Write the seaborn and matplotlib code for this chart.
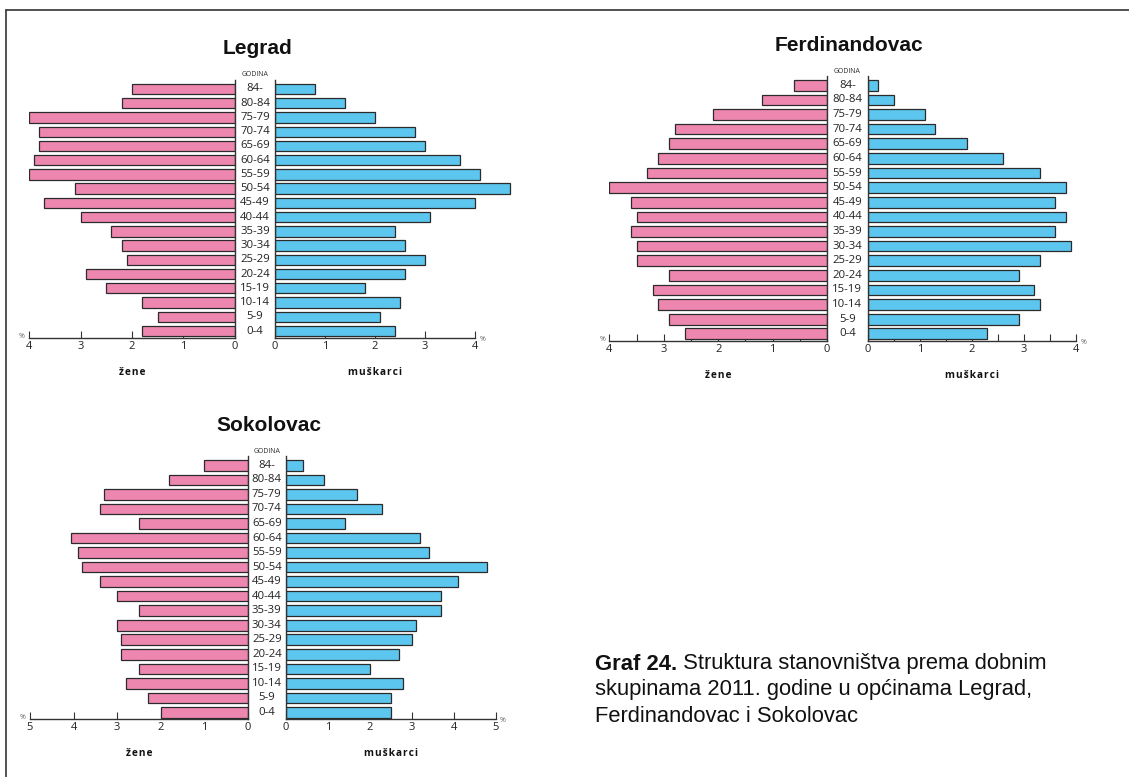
import numpy as np
import seaborn as sns
import matplotlib.pyplot as plt
from matplotlib.lines import Line2D
from matplotlib import transforms

# age groups, top to bottom
ages = ["84-", "80-84", "75-79", "70-74", "65-69", "60-64", "55-59", "50-54", "45-49",
        "40-44", "35-39", "30-34", "25-29", "20-24", "15-19", "10-14", "5-9", "0-4"]

# shares in %
legrad_zene = [2.0, 2.2, 4.0, 3.8, 3.8, 3.9, 4.0, 3.1, 3.7, 3.0, 2.4, 2.2, 2.1, 2.9, 2.5, 1.8, 1.5, 1.8]
legrad_muskarci = [0.8, 1.4, 2.0, 2.8, 3.0, 3.7, 4.1, 4.7, 4.0, 3.1, 2.4, 2.6, 3.0, 2.6, 1.8, 2.5, 2.1, 2.4]
ferd_zene = [0.6, 1.2, 2.1, 2.8, 2.9, 3.1, 3.3, 4.0, 3.6, 3.5, 3.6, 3.5, 3.5, 2.9, 3.2, 3.1, 2.9, 2.6]
ferd_muskarci = [0.2, 0.5, 1.1, 1.3, 1.9, 2.6, 3.3, 3.8, 3.6, 3.8, 3.6, 3.9, 3.3, 2.9, 3.2, 3.3, 2.9, 2.3]
sok_zene = [1.0, 1.8, 3.3, 3.4, 2.5, 4.05, 3.9, 3.8, 3.4, 3.0, 2.5, 3.0, 2.9, 2.9, 2.5, 2.8, 2.3, 2.0]
sok_muskarci = [0.4, 0.9, 1.7, 2.3, 1.4, 3.2, 3.4, 4.8, 4.1, 3.7, 3.7, 3.1, 3.0, 2.7, 2.0, 2.8, 2.5, 2.5]

caption_bold = "Graf 24."
caption_lines = [" Struktura stanovništva prema dobnim",
                 "skupinama 2011. godine u općinama Legrad,",
                 "Ferdinandovac i Sokolovac"]

PINK = "#EE87B0"
BLUE = "#5CC6EE"
EDGE = "#2b2b2b"
LABEL_FONT = ["Open Sans", "DejaVu Sans"]
HEAD_FONT = ["Liberation Sans", "DejaVu Sans"]
HAIR = "\u200a"

sns.set_style("white")
plt.rcParams["font.family"] = LABEL_FONT

W, H = 1129, 777
fig = plt.figure(figsize=(W / 100, H / 100), dpi=100)


def box(x0, y0, x1, y1):
    # pixel box (top-left origin) -> figure fraction
    return [x0 / W, 1 - y1 / H, (x1 - x0) / W, (y1 - y0) / H]


def style_side(ax, axmax, minor, side):
    ax.set_xticks(range(axmax + 1))
    if minor:
        ax.set_xticks(np.arange(0.5, axmax, 1.0), minor=True)
    ax.set_axisbelow(True)
    ax.tick_params(axis="x", which="both", bottom=True, direction="in", length=5,
                   width=0.8, color="#333333", pad=2.5, labelsize=8, labelcolor="#222222")
    ax.tick_params(axis="y", left=False, right=False, labelleft=False)
    ax.set_xlabel("")
    ax.set_ylabel("")
    for s in ["top", "left", "right", "bottom"]:
        ax.spines[s].set_visible(False)
    ax.spines["bottom"].set_visible(True)
    ax.spines["bottom"].set_bounds(0, axmax)
    ax.spines[side].set_visible(True)
    for s in ["bottom", side]:
        ax.spines[s].set_color("#333333")
        ax.spines[s].set_linewidth(1.0)


def pyramid(title, zene, muskarci, axmax, left, right, rows, minor=False):
    lx_max, lx0 = left
    rx0, rx_max = right
    c_first, c_last, y_axis = rows
    step = (c_last - c_first) / (len(ages) - 1)
    ybot = len(ages) - 1 + (y_axis - c_last) / step
    ytop = -0.65
    y_top_px = c_first + ytop * step
    ext = 1.25

    ax_l = fig.add_axes(box(lx_max, y_top_px, lx0, y_axis))
    sns.barplot(x=zene, y=ages, orient="h", color=PINK, saturation=1, edgecolor=EDGE,
                linewidth=0.9, width=0.73, errorbar=None, ax=ax_l)
    ax_l.set_xlim(axmax, 0)
    ax_l.set_ylim(ybot, ytop)
    style_side(ax_l, axmax, minor, "right")

    ax_r = fig.add_axes(box(rx0, y_top_px, rx0 + (rx_max - rx0) * ext, y_axis))
    sns.barplot(x=muskarci, y=ages, orient="h", color=BLUE, saturation=1, edgecolor=EDGE,
                linewidth=0.9, width=0.73, errorbar=None, ax=ax_r)
    ax_r.set_xlim(0, axmax * ext)
    ax_r.set_ylim(ybot, ytop)
    style_side(ax_r, axmax, minor, "left")
    ax_r.patch.set_alpha(0)

    # percent signs at the axis ends
    ax_l.annotate("%", xy=(axmax, ybot), xytext=(-3, 1), textcoords="offset points",
                  ha="right", va="center", fontsize=5, color="#666666", annotation_clip=False)
    ax_r.annotate("%", xy=(axmax, ybot), xytext=(3, -1), textcoords="offset points",
                  ha="left", va="center", fontsize=5, color="#666666", annotation_clip=False)

    # side labels
    for ax, word in [(ax_l, "žene"), (ax_r, "muškarci")]:
        ax.annotate(HAIR.join(word), xy=(axmax / 2, ybot), xytext=(0, -25),
                    textcoords="offset points", ha="center", va="center", fontsize=7.3,
                    fontweight="bold", color="#111111", annotation_clip=False)

    # age group labels between the halves
    mid = (lx0 + rx0) / 2 / W
    tr = transforms.blended_transform_factory(fig.transFigure, ax_r.transData)
    for i, a in enumerate(ages):
        fig.text(mid, i, a, transform=tr, ha="center", va="center", fontsize=8.2, color="#222222")
    fig.text(mid, 1 - (c_first - 14) / H, "GODINA", ha="center", va="center",
             fontsize=5, color="#333333")
    fig.text(mid + 2 / W, 1 - (c_first - 40) / H, title, ha="center", va="center",
             fontsize=15, fontweight="bold", family=HEAD_FONT, color="#111111")


pyramid("Legrad", legrad_zene, legrad_muskarci, 4,
        left=(29, 235), right=(275, 475), rows=(89, 331, 338))
pyramid("Ferdinandovac", ferd_zene, ferd_muskarci, 4,
        left=(609.3, 827), right=(867.7, 1076), rows=(85.3, 333.8, 340.7), minor=True)
pyramid("Sokolovac", sok_zene, sok_muskarci, 5,
        left=(30, 247.7), right=(286, 495.7), rows=(465.3, 712.5, 719))

# frame lines
fig.add_artist(Line2D([5.7 / W, 1], [1 - 10.2 / H] * 2, transform=fig.transFigure,
                      color="#333333", lw=1.2))
fig.add_artist(Line2D([5.7 / W] * 2, [0, 1 - 10.2 / H], transform=fig.transFigure,
                      color="#333333", lw=1.2))

# caption
renderer = fig.canvas.get_renderer()
cx, cy, lh = 595 / W, 664, 26
t = fig.text(cx, 1 - cy / H, caption_bold, ha="left", va="center", fontsize=15.8,
             fontweight="bold", family=HEAD_FONT, color="#111111")
bb = t.get_window_extent(renderer=renderer)
fig.text(bb.x1 / W, 1 - cy / H, caption_lines[0], ha="left", va="center", fontsize=15.8,
         family=HEAD_FONT, color="#111111")
for k, line in enumerate(caption_lines[1:], start=1):
    fig.text(cx, 1 - (cy + k * lh) / H, line, ha="left", va="center", fontsize=15.8,
             family=HEAD_FONT, color="#111111")

fig.savefig("out.png", dpi=100)
